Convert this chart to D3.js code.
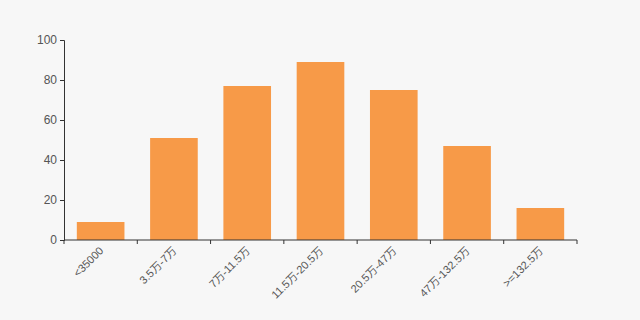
<!DOCTYPE html>
<html>
<head>
<meta charset="utf-8">
<script src="https://cdn.jsdelivr.net/npm/d3@7"></script>
<style>
  body { margin: 0; background: #f7f7f7; }
  svg { display: block; font-family: "Liberation Sans", Arial, "Noto Sans CJK SC", sans-serif; }
</style>
</head>
<body>
<div id="chart"></div>
<script>
var categories = ["<35000", "3.5万-7万", "7万-11.5万", "11.5万-20.5万", "20.5万-47万", "47万-132.5万", ">=132.5万"];
var values = [9, 51, 77, 89, 75, 47, 16];
var yTicks = [0, 20, 40, 60, 80, 100];

var margin = { top: 40, right: 63, bottom: 80, left: 64 },
    width = 640 - margin.left - margin.right,
    height = 320 - margin.top - margin.bottom;

var svg = d3.select("#chart")
    .append("svg")
    .attr("width", 640)
    .attr("height", 320)
    .style("background", "#f7f7f7")
    .append("g")
    .attr("transform", "translate(" + margin.left + "," + margin.top + ")");

var x = d3.scaleBand()
    .domain(categories)
    .range([0, width])
    .paddingInner(0.35)
    .paddingOuter(0.175);

// plain band scale for tick positions (category boundaries)
var xb = d3.scaleBand().domain(categories).range([0, width]);

var y = d3.scaleLinear()
    .domain([0, 100])
    .range([height, 0]);

// bars
svg.selectAll("rect.bar")
    .data(values)
    .enter().append("rect")
    .attr("class", "bar")
    .attr("x", (d, i) => x(categories[i]))
    .attr("y", d => y(d))
    .attr("width", x.bandwidth())
    .attr("height", d => height - y(d))
    .attr("fill", "#f79a48");

// y axis
var yAxis = svg.append("g")
    .call(d3.axisLeft(y).tickValues(yTicks).tickSize(4).tickPadding(3));
yAxis.select(".domain").attr("stroke", "#333");
yAxis.selectAll(".tick line").attr("stroke", "#333");
yAxis.selectAll("text").attr("fill", "#555").style("font-size", "12px");

// x axis: ticks between categories, labels at centres
var xg = svg.append("g").attr("transform", "translate(0," + height + ")");
xg.append("line")
    .attr("x1", 0).attr("x2", width)
    .attr("stroke", "#333");
var bounds = categories.map(c => xb(c)).concat([width]);
xg.selectAll("line.tick")
    .data(bounds)
    .enter().append("line")
    .attr("class", "tick")
    .attr("x1", d => d).attr("x2", d => d)
    .attr("y1", 0).attr("y2", 4)
    .attr("stroke", "#333");
xg.selectAll("text")
    .data(categories)
    .enter().append("text")
    .attr("transform", d => "translate(" + (xb(d) + xb.bandwidth() / 2 - 2) + ",6) rotate(-45)")
    .attr("text-anchor", "end")
    .attr("dy", "0.7em")
    .attr("fill", "#555")
    .style("font-size", "11px")
    .text(d => d);
</script>
</body>
</html>
